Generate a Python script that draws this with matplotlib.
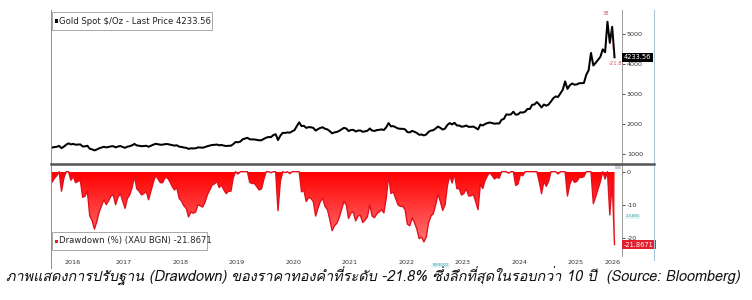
import numpy as np
import matplotlib
matplotlib.use('Agg')
import matplotlib.pyplot as plt
from matplotlib.colors import LinearSegmentedColormap
from matplotlib.patches import Rectangle
from matplotlib.lines import Line2D

plt.rcParams['font.family'] = ['DejaVu Sans']

# Gold spot, USD/oz, two readings per month starting March 2016
gold_2016 = [1265, 1225, 1240, 1250, 1280, 1205, 1255, 1320, 1365, 1330,
             1345, 1320, 1325, 1330, 1260, 1265, 1285, 1185, 1165, 1130]
gold_2017 = [1160, 1200, 1225, 1250, 1230, 1245, 1265, 1270, 1230, 1260, 1275, 1245,
             1215, 1255, 1270, 1300, 1345, 1295, 1285, 1270, 1275, 1285, 1250, 1285]
gold_2018 = [1320, 1350, 1335, 1320, 1320, 1340, 1340, 1325, 1305, 1290, 1300, 1255,
             1245, 1225, 1215, 1180, 1200, 1195, 1200, 1230, 1225, 1220, 1240, 1270]
gold_2019 = [1290, 1310, 1315, 1325, 1300, 1310, 1290, 1275, 1285, 1285, 1340, 1410,
             1400, 1425, 1500, 1525, 1550, 1500, 1495, 1495, 1480, 1465, 1470, 1515]
gold_2020 = [1555, 1575, 1570, 1640, 1670, 1475, 1620, 1715, 1710, 1730, 1720, 1765,
             1805, 1940, 2065, 1940, 1950, 1880, 1905, 1900, 1880, 1790, 1840, 1880]
gold_2021 = [1900, 1850, 1830, 1770, 1700, 1730, 1745, 1780, 1830, 1880, 1860, 1775,
             1810, 1815, 1760, 1790, 1795, 1750, 1765, 1785, 1860, 1790, 1780, 1805]
gold_2022 = [1815, 1830, 1810, 1900, 2040, 1930, 1940, 1900, 1860, 1850, 1850, 1830,
             1740, 1730, 1780, 1750, 1710, 1650, 1660, 1630, 1660, 1750, 1790, 1805]
gold_2023 = [1860, 1925, 1880, 1825, 1860, 1980, 2040, 1995, 2050, 1960, 1960, 1920,
             1930, 1960, 1915, 1915, 1925, 1880, 1830, 1990, 1960, 2010, 2040, 2060]
gold_2024 = [2040, 2020, 2030, 2025, 2150, 2180, 2330, 2320, 2330, 2420, 2320, 2330,
             2400, 2390, 2420, 2510, 2510, 2650, 2660, 2740, 2660, 2560, 2660, 2620]
gold_2025 = [2660, 2760, 2870, 2930, 2910, 3030, 3150, 3430, 3180, 3300, 3360, 3320,
             3330, 3370, 3370, 3380, 3650, 3800, 4380, 3960, 4050, 4150, 4250, 4500]
gold_2026 = [4400, 5418.4, 4715, 5250, 4233.56]

last_price = 4233.56
last_drawdown = -21.8671
year_labels = ['2016', '2017', '2018', '2019', '2020', '2021', '2022', '2023', '2024', '2025', '2026']
year_label_pos = [2016.6, 2017.5, 2018.5, 2019.5, 2020.5, 2021.5, 2022.5, 2023.5, 2024.5, 2025.5, 2026.16]
price_ticks = [1000, 2000, 3000, 4000, 5000]
dd_ticks = [0, -10, -20]
caption = 'ภาพแสดงการปรับฐาน (Drawdown) ของราคาทองคำที่ระดับ -21.8% ซึ่งลึกที่สุดในรอบกว่า 10 ปี  (Source: Bloomberg)'

gold = np.array(gold_2016 + gold_2017 + gold_2018 + gold_2019 + gold_2020 + gold_2021
                + gold_2022 + gold_2023 + gold_2024 + gold_2025 + gold_2026)
t = 2016 + 2 / 12 + 1 / 48 + np.arange(len(gold)) / 24
drawdown = (gold / np.maximum.accumulate(gold) - 1) * 100

W, H = 752, 300
fig = plt.figure(figsize=(W / 100, H / 100), dpi=100)


def fx(px):
    return px / W


def fy(py):
    return 1 - py / H


x_left, x_axis, x_border = 51, 622, 654
y_top, y_sep, y_bot = 10, 163.5, 256

ax = fig.add_axes([fx(x_left), fy(y_sep), fx(x_axis - x_left), fy(y_top) - fy(y_sep)])
ax2 = fig.add_axes([fx(x_left), fy(y_bot), fx(x_axis - x_left), fy(y_sep) - fy(y_bot)])
xlim = (2016.21, 2026.32)

# --- price panel
ax.plot(t, gold, color='black', lw=1.45, solid_joinstyle='round')
ax.set_xlim(*xlim)
ax.set_ylim(693, 5810)
ax.set_xticks([])
ax.yaxis.tick_right()
ax.set_yticks(price_ticks)
ax.set_yticklabels([str(v) for v in price_ticks])

# --- drawdown panel with gradient fill
poly = ax2.fill_between(t, drawdown, 0, color='none', lw=0)
grad = np.linspace(0, 1, 256).reshape(-1, 1)
cmap = LinearSegmentedColormap.from_list('dd', ['#ff0000', '#ff7c7c'])
img = ax2.imshow(grad, cmap=cmap, aspect='auto', origin='upper',
                 extent=[t[0], t[-1], -22.5, 0], zorder=2, interpolation='bilinear')
img.set_clip_path(poly.get_paths()[0], transform=ax2.transData)
ax2.plot(t, drawdown, color='#e2101c', lw=1.0, zorder=3)
ax2.set_xlim(*xlim)
ax2.set_ylim(-25.3, 2.46)
ax2.yaxis.tick_right()
ax2.set_yticks(dd_ticks)
ax2.set_yticklabels(['0', '-10', '-20'])
ax2.set_xticks(year_label_pos)
ax2.set_xticklabels(year_labels)
ax2.tick_params(axis='x', length=0, labelsize=4.6, pad=3, colors='#333333')

for a in (ax, ax2):
    for s in ('top', 'bottom', 'left'):
        a.spines[s].set_visible(False)
    a.spines['right'].set_color('#9a9a9a')
    a.spines['right'].set_linewidth(0.7)
    a.tick_params(axis='y', direction='out', length=2, width=0.6, labelsize=4.6,
                  pad=1.5, colors='#333333')
    a.set_facecolor('white')

# frame lines
fig.add_artist(Line2D([fx(x_left), fx(x_left)], [fy(y_top), fy(268)], color='#8c8c8c', lw=0.7))
fig.add_artist(Line2D([fx(x_border), fx(x_border)], [fy(y_top), fy(260)], color='#a9c6d8', lw=0.8))
fig.add_artist(Line2D([fx(x_left), fx(x_border)], [fy(y_sep), fy(y_sep)], color='#555555', lw=1.8))
fig.add_artist(Rectangle((fx(615), fy(169)), fx(6), fy(163) - fy(169), facecolor='#c8ccd8',
                         edgecolor='none'))

# last value tags on the right axis
ax.annotate(f'{last_price:.2f}', xy=(1.0, last_price), xycoords=ax.get_yaxis_transform(),
            xytext=(1.5, 0), textcoords='offset points', va='center', ha='left',
            fontsize=4.8, color='white', annotation_clip=False,
            bbox=dict(boxstyle='square,pad=0.25', fc='black', ec='none'))
ax2.annotate(f'{last_drawdown:.4f}', xy=(1.0, last_drawdown), xycoords=ax2.get_yaxis_transform(),
             xytext=(1.5, 0), textcoords='offset points', va='center', ha='left',
             fontsize=4.8, color='white', annotation_clip=False,
             bbox=dict(boxstyle='square,pad=0.25', fc='#e0202e', ec='none'))
ax2.annotate('-13.656', xy=(1.0, -13.4), xycoords=ax2.get_yaxis_transform(),
             xytext=(2.5, 0), textcoords='offset points', va='center', ha='left',
             fontsize=2.6, color='#2a9aa0', annotation_clip=False,
             bbox=dict(boxstyle='square,pad=0.2', fc='#e2f6f6', ec='none'))
fig.text(fx(441), fy(265.5), '09/30/22', fontsize=2.6, color='#2a9aa0', ha='center', va='center',
         bbox=dict(boxstyle='square,pad=0.2', fc='#e2f6f6', ec='none'))

# peak / trough markers
ax.text(2026.04, 5700, '38', fontsize=3.8, color='#d05060', ha='center', va='center')
ax.plot([2026.13, 2026.17], [5150, 4350], color='#d05060', lw=0.5, ls=':')
ax.text(2026.2, 4010, '-21.8', fontsize=3.8, color='#d05060', ha='center', va='center')

# legend boxes
fig.add_artist(Rectangle((fx(52), fy(30)), fx(160), fy(12) - fy(30), facecolor='white',
                         edgecolor='#9a9a9a', lw=0.6))
fig.add_artist(Rectangle((fx(55), fy(22.5)), fx(3), fy(19.5) - fy(22.5), facecolor='black',
                         edgecolor='none'))
fig.text(fx(59), fy(21), 'Gold Spot $/Oz - Last Price 4233.56', fontsize=6.1, color='#222222',
         va='center', ha='left')
fig.add_artist(Rectangle((fx(52), fy(250)), fx(155), fy(232) - fy(250), facecolor='white',
                         edgecolor='#9a9a9a', lw=0.6))
fig.add_artist(Rectangle((fx(55), fy(242.5)), fx(3), fy(239.5) - fy(242.5), facecolor='#e0202e',
                         edgecolor='none'))
fig.text(fx(59), fy(241), 'Drawdown (%) (XAU BGN) -21.8671', fontsize=6.1, color='#222222',
         va='center', ha='left')

# caption
fig.text(fx(6), fy(276), caption, fontsize=10.4, style='oblique', color='#111111',
         family=['Loma', 'DejaVu Sans'], ha='left', va='center')

fig.savefig('out.png', dpi=100)
